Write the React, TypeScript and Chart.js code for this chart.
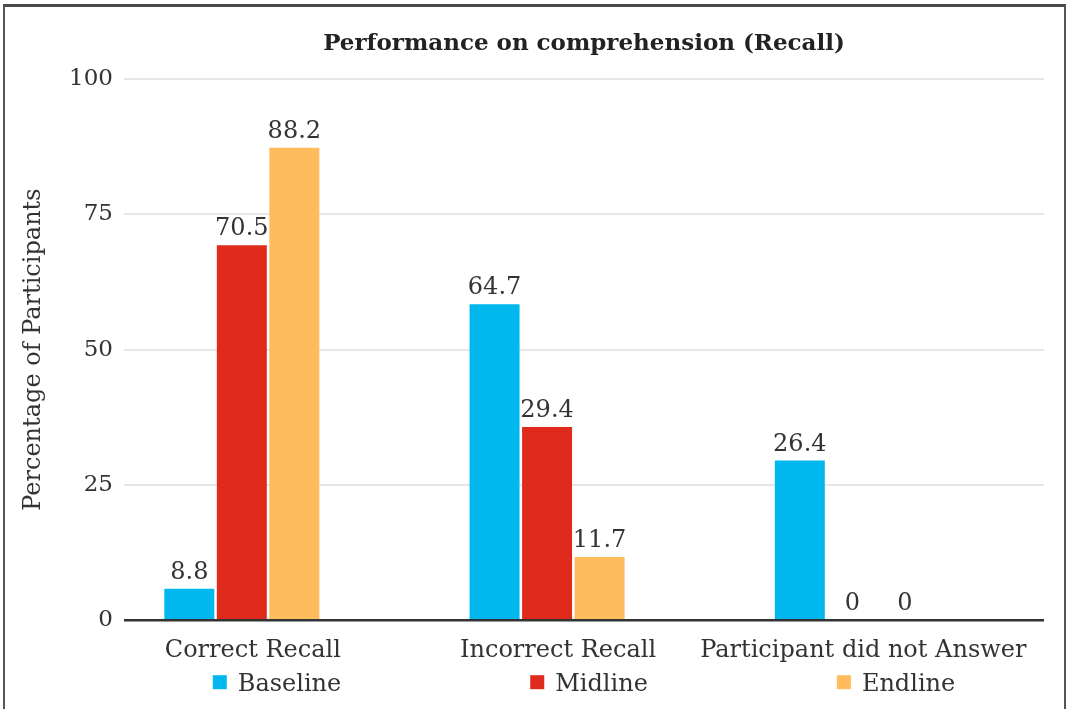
import React, { useEffect, useRef } from "react";
import { Chart, registerables } from "chart.js";

Chart.register(...registerables);

const categories = ["Correct Recall", "Incorrect Recall", "Participant did not Answer"];
const seriesNames = ["Baseline", "Midline", "Endline"];
// bar heights as drawn in the picture
const baselineValues = [5.8, 58.4, 29.5];
const midlineValues = [69.3, 35.7, 0];
const endlineValues = [87.3, 11.7, 0];
// value labels as printed above the bars
const baselineLabels = ["8.8", "64.7", "26.4"];
const midlineLabels = ["70.5", "29.4", "0"];
const endlineLabels = ["88.2", "11.7", "0"];
const yTicks = [0, 25, 50, 75, 100];

const colors = ["#00B8EE", "#E02A1B", "#FFBB5C"];
const textColor = "#333333";
const FONT = '"DejaVu Serif", serif';

const allLabels = [baselineLabels, midlineLabels, endlineLabels];

const centerOnArea = {
  id: "centerOnArea",
  afterLayout(chart: any) {
    const t = chart.titleBlock;
    if (t) {
      const shift = (chart.chartArea.left + chart.chartArea.right) / 2 - (t.left + t.right) / 2;
      t.left += shift;
      t.right += shift;
    }
  },
};

const valueLabels = {
  id: "valueLabels",
  afterDatasetsDraw(chart: any) {
    const ctx = chart.ctx;
    ctx.save();
    ctx.font = `24px ${FONT}`;
    ctx.fillStyle = textColor;
    ctx.textAlign = "center";
    ctx.textBaseline = "alphabetic";
    chart.data.datasets.forEach((ds: any, di: number) => {
      const meta = chart.getDatasetMeta(di);
      meta.data.forEach((bar: any, i: number) => {
        ctx.fillText(allLabels[di][i], bar.x, bar.y - 10);
      });
    });
    ctx.restore();
  },
};

const spacedLegend = {
  id: "spacedLegend",
  afterDraw(chart: any) {
    const ctx = chart.ctx;
    const { left, right, bottom } = chart.chartArea;
    ctx.save();
    ctx.font = `24px ${FONT}`;
    const box = 14;
    const gapText = 11;
    const gapItem = 189;
    const items = chart.data.datasets.map((ds: any) => ({
      text: ds.label,
      color: ds.backgroundColor,
      w: ctx.measureText(ds.label).width,
    }));
    const total =
      items.reduce((s: number, it: any) => s + box + gapText + it.w, 0) + gapItem * (items.length - 1);
    let x = (left + right) / 2 - total / 2;
    const yText = bottom + 65;
    items.forEach((it: any) => {
      ctx.fillStyle = it.color;
      ctx.fillRect(x, yText - 3 - box / 2, box, box);
      ctx.fillStyle = textColor;
      ctx.textAlign = "left";
      ctx.textBaseline = "middle";
      ctx.fillText(it.text, x + box + gapText, yText);
      x += box + gapText + it.w + gapItem;
    });
    ctx.restore();
  },
};

export default function App() {
  const canvasRef = useRef<HTMLCanvasElement | null>(null);

  useEffect(() => {
    if (!canvasRef.current) return;
    const seriesValues = [baselineValues, midlineValues, endlineValues];
    const chart = new Chart(canvasRef.current, {
      type: "bar",
      data: {
        datasets: seriesNames.map((name, di) => ({
          label: name,
          data: seriesValues[di].map((v, i) => ({ x: i, y: v })),
          backgroundColor: colors[di],
          borderWidth: 0,
          barPercentage: 0.952,
          categoryPercentage: 0.516,
        })),
      },
      options: {
        animation: false,
        responsive: true,
        maintainAspectRatio: false,
        layout: { padding: { top: 0, right: 19, bottom: 28, left: 0 } },
        plugins: {
          legend: { display: false },
          tooltip: { enabled: false },
          title: {
            display: true,
            text: "Performance on comprehension (Recall)",
            color: "#222222",
            font: { family: FONT, size: 23, weight: "bold", lineHeight: 1.2 },
            padding: { top: 23.5, bottom: 20.9 },
          },
        },
        scales: {
          x: {
            type: "linear",
            offset: false,
            bounds: "data",
            min: -0.386,
            max: 2.628,
            afterBuildTicks: (axis: any) => {
              axis.ticks = categories.map((_, i) => ({ value: i }));
            },
            ticks: {
              callback: (v: any) => categories[v as number],
              autoSkip: false,
              maxRotation: 0,
              minRotation: 0,
              padding: 16,
              labelOffset: 11,
              color: textColor,
              font: { family: FONT, size: 24, lineHeight: 1.2 },
            },
            grid: { display: false, drawTicks: false, offset: false },
            border: { display: false },
          },
          y: {
            min: 0,
            max: 100,
            afterBuildTicks: (axis: any) => {
              axis.ticks = yTicks.map((v) => ({ value: v }));
            },
            ticks: {
              padding: 11,
              color: textColor,
              font: { family: FONT, size: 23, lineHeight: 1.2 },
            },
            grid: {
              drawTicks: false,
              color: (c: any) => (c.tick && c.tick.value === 0 ? "#333333" : "#e6e6e6"),
              lineWidth: (c: any) => (c.tick && c.tick.value === 0 ? 2.5 : 2),
            },
            border: { display: false },
            title: {
              display: true,
              text: "Percentage of Participants",
              color: textColor,
              font: { family: FONT, size: 24, lineHeight: 1.2 },
              padding: { top: 14, bottom: 0 },
            },
            afterFit: (s: any) => {
              s.width = 119;
            },
          },
        },
      },
      plugins: [centerOnArea, valueLabels, spacedLegend],
    });
    return () => chart.destroy();
  }, []);

  return (
    <div
      style={{
        position: "absolute",
        left: 0,
        top: 0,
        width: 1068,
        height: 709,
        overflow: "hidden",
        background: "#ffffff",
      }}
    >
      <div
        style={{
          position: "absolute",
          left: 3,
          top: 4,
          width: 1063,
          height: 740,
          boxSizing: "border-box",
          border: "2px solid #555555",
          borderTop: "3px solid #4a4a4a",
        }}
      />
      <div style={{ position: "absolute", left: 5, top: 7, width: 1058, height: 702 }}>
        <canvas ref={canvasRef} />
      </div>
    </div>
  );
}
